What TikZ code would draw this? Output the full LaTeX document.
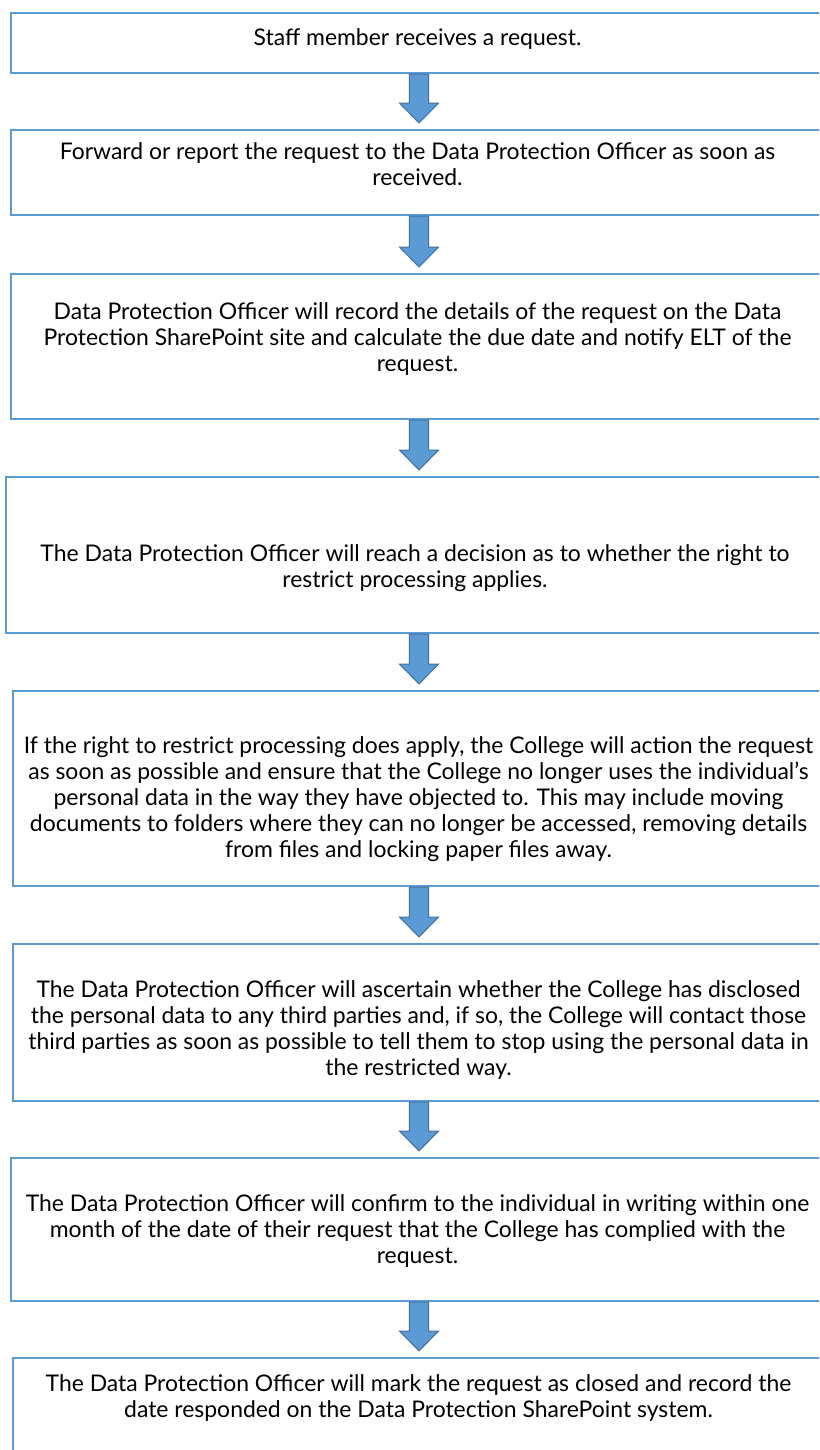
\documentclass[tikz,border=0pt]{standalone}
\usepackage{fontspec}
\setmainfont{Lato}
\usepackage{tikz}
\usetikzlibrary{positioning,calc}
\definecolor{boxblue}{HTML}{5B9BD5}
\definecolor{arrowedge}{HTML}{41719C}
\tikzset{
  stepbox/.style={draw=boxblue, line width=1.5pt, anchor=north west, inner sep=0pt},
  steptext/.style={align=center, inner sep=0pt, anchor=north, font=\fontsize{17.2}{19.5}\selectfont},
  flowarrow/.style={fill=boxblue, draw=arrowedge, line width=0.75pt, line join=miter}
}

\begin{document}
\begin{tikzpicture}[x=0.75pt,y=-0.75pt]
    \useasboundingbox (0,0) rectangle (819,1450);
    \clip (0,0) rectangle (819,1450);

    \node[stepbox, minimum width=609.75pt, minimum height=45pt] (s1) at (10,12) {};
    \node[stepbox, minimum width=609.75pt, minimum height=63.75pt] (s2) at (10,129) {};
    \node[stepbox, minimum width=609.75pt, minimum height=108.75pt] (s3) at (10,273) {};
    \node[stepbox, minimum width=613.5pt, minimum height=117pt] (s4) at (5,476) {};
    \node[stepbox, minimum width=608.25pt, minimum height=146.25pt] (s5) at (12,690) {};
    \node[stepbox, minimum width=608.25pt, minimum height=117.75pt] (s6) at (12,943) {};
    \node[stepbox, minimum width=609.75pt, minimum height=107.25pt] (s7) at (10,1157) {};
    \node[stepbox, minimum width=608.25pt, minimum height=78.75pt] (s8) at (12,1357) {};

    \node[steptext, below=12pt of s1.north] (t1) {Staff member receives a request.};
    \node[steptext, below=10pt of s2.north] (t2) {Forward or report the request to the Data Protection Officer as soon as\\received.};
    \node[steptext, below=22pt of s3.north] (t3) {Data Protection Officer will record the details of the request on the Data\\Protection SharePoint site and calculate the due date and notify ELT of the\\request.};
    \node[steptext, below=51pt of s4.north] (t4) {The Data Protection Officer will reach a decision as to whether the right to\\restrict processing applies.};
    \node[steptext, below=35pt of s5.north] (t5) {If the right to restrict processing does apply, the College will action the request\\as soon as possible and ensure that the College no longer uses the individual’s\\personal data in the way they have objected to. This may include moving\\documents to folders where they can no longer be accessed, removing details\\from files and locking paper files away.};
    \node[steptext, below=28pt of s6.north] (t6) {The Data Protection Officer will ascertain whether the College has disclosed\\the personal data to any third parties and, if so, the College will contact those\\third parties as soon as possible to tell them to stop using the personal data in\\the restricted way.};
    \node[steptext, below=28pt of s7.north] (t7) {The Data Protection Officer will confirm to the individual in writing within one\\month of the date of their request that the College has complied with the\\request.};
    \node[steptext, below=13pt of s8.north] (t8) {The Data Protection Officer will mark the request as closed and record the\\date responded on the Data Protection SharePoint system.};

    \foreach \a/\b in {s1/s2,s2/s3,s3/s4,s4/s5,s5/s6,s6/s7,s7/s8}
        \draw[flowarrow] let \p1=(\a.south), \p2=(\b.north) in
            (307.1pt,\y1) -- (321.4pt,\y1) -- (321.4pt,\y2+19.5pt) -- (328.9pt,\y2+19.5pt)
            -- (314.25pt,\y2+4.5pt) -- (299.6pt,\y2+19.5pt) -- (307.1pt,\y2+19.5pt) -- cycle;
\end{tikzpicture}
\end{document}
